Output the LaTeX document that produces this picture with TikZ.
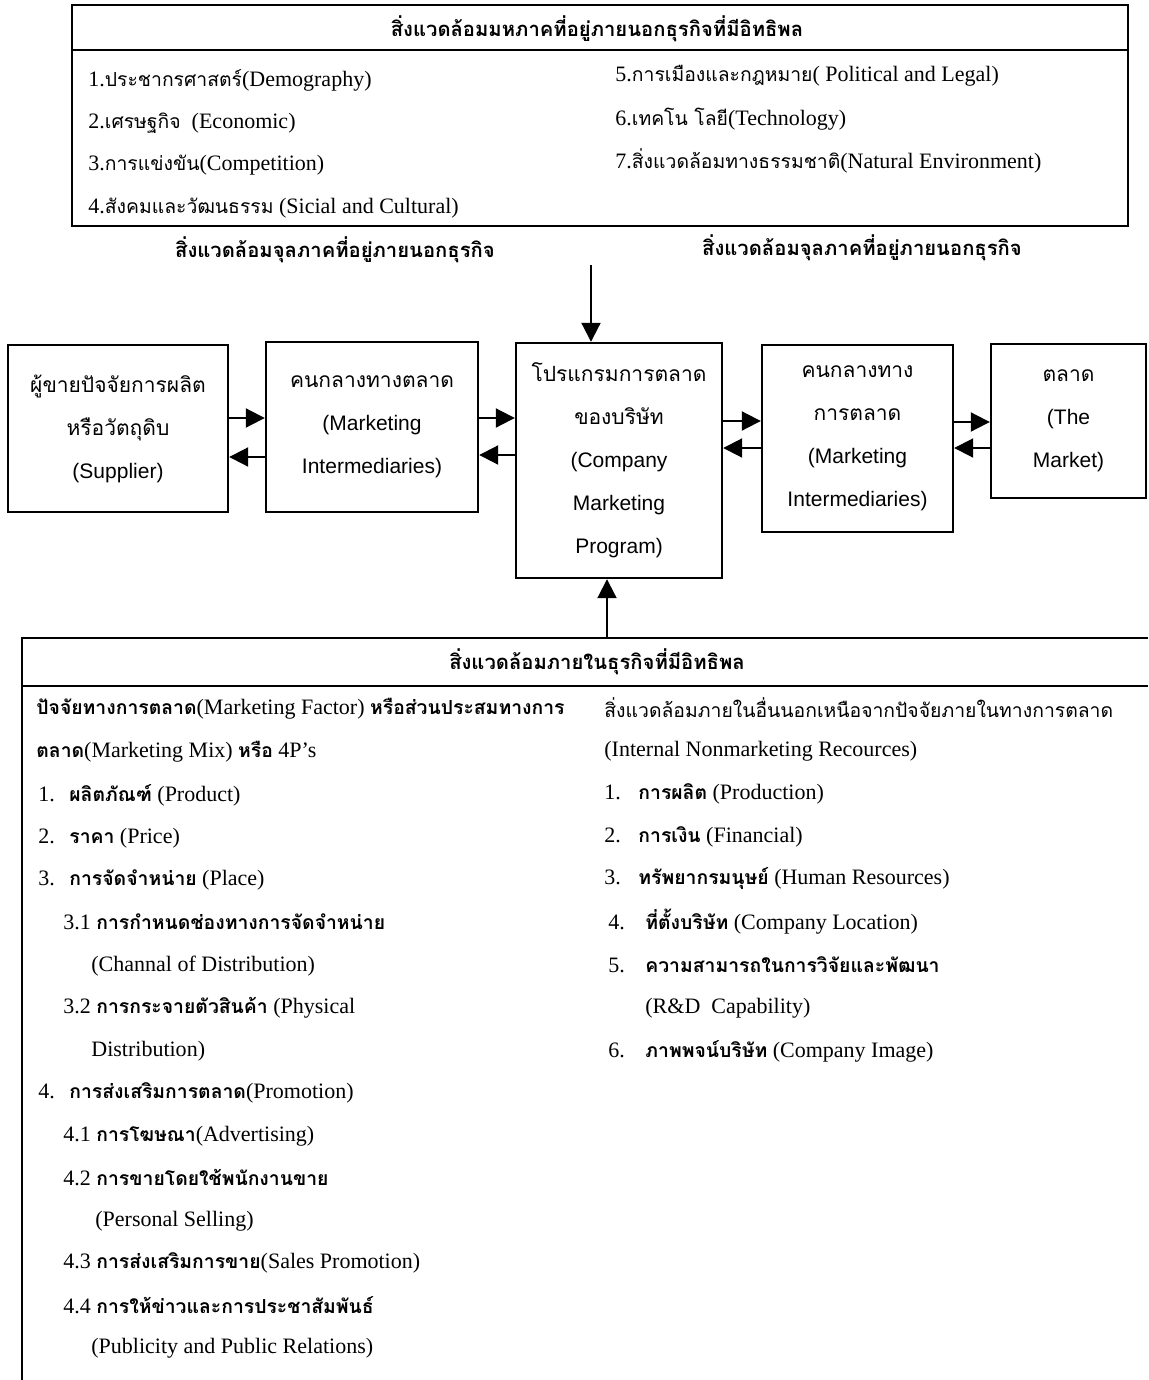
\documentclass[tikz,border=0pt]{standalone}
\usepackage{fontspec}
\usetikzlibrary{arrows.meta}
\setmainfont{Liberation Serif}
\newfontfamily\sansfnt{Liberation Sans}
\newfontfamily\thaifnt[Script=Thai,Scale=0.88]{Loma}
\newfontfamily\thaihead[Script=Thai,Scale=0.92]{Loma}
\newfontfamily\thaibox[Script=Thai]{Loma}
\newcommand{\thrm}[1]{{\thaifnt #1}}
\newcommand{\thbf}[1]{{\thaifnt\bfseries #1}}
\newcommand{\thhd}[1]{{\thaihead\bfseries #1}}
\newcommand{\thsf}[1]{{\thaibox #1}}
\newcommand{\numL}[1]{\makebox[15.5pt][l]{#1}}
\newcommand{\numR}[1]{\makebox[17pt][l]{#1}}
\newcommand{\numS}[1]{\makebox[18.5pt][l]{#1}}

\begin{document}
\begin{tikzpicture}[x=0.5pt,y=-0.5pt,
    arr/.style={-{Triangle[length=9.5pt,width=9.5pt]},line width=1pt},
    frame/.style={line width=1.2pt}]
\useasboundingbox (0,0) rectangle (1148,1380);

% macro environment
\draw[frame] (72,5) rectangle (1128,226);
\draw[frame] (72,50) -- (1128,50);
\node[font=\fontsize{11}{13}\selectfont] (macro) at (597,29) {\thhd{สิ่งแวดล้อมมหภาคที่อยู่ภายนอกธุรกิจที่มีอิทธิพล}};
\begin{scope}[every node/.append style={anchor=west,inner sep=0pt,font=\fontsize{11}{13}\selectfont}]
    \node (m1) at (88,80) {1.\thrm{ประชากรศาสตร์}(Demography)};
    \node (m2) at (88,123) {2.\thrm{เศรษฐกิจ}\ \ (Economic)};
    \node (m3) at (88,165) {3.\thrm{การแข่งขัน}(Competition)};
    \node (m4) at (88,208) {4.\thrm{สังคมและวัฒนธรรม} (Sicial and Cultural)};
    \node (m5) at (615,76) {5.\thrm{การเมืองและกฎหมาย}( Political and Legal)};
    \node (m6) at (615,119) {6.\thrm{เทคโน โลยี}(Technology)};
    \node (m7) at (615,161) {7.\thrm{สิ่งแวดล้อมทางธรรมชาติ}(Natural Environment)};
\end{scope}
\begin{scope}[every node/.append style={font=\fontsize{11}{13}\selectfont}]
    \node (microL) at (335,250) {\thhd{สิ่งแวดล้อมจุลภาคที่อยู่ภายนอกธุรกิจ}};
    \node (microR) at (862,248) {\thhd{สิ่งแวดล้อมจุลภาคที่อยู่ภายนอกธุรกิจ}};
\end{scope}

% the five boxes
\begin{scope}[every node/.append style={draw,line width=1.2pt,align=center,inner sep=0pt,
        font=\sansfnt\fontsize{10.5}{21.5}\selectfont}]
    \node[minimum width=110pt,minimum height=83.5pt] (supplier) at (118,428.5)
        {\thsf{ผู้ขายปัจจัยการผลิต}\\\thsf{หรือวัตถุดิบ}\\(Supplier)};
    \node[minimum width=106pt,minimum height=85pt] (midL) at (372,427)
        {\thsf{คนกลางทางตลาด}\\(Marketing\\Intermediaries)};
    \node[minimum width=103pt,minimum height=117.5pt] (program) at (619,460.5)
        {\thsf{โปรแกรมการตลาด}\\\thsf{ของบริษัท}\\(Company\\Marketing\\Program)};
    \node[minimum width=95.5pt,minimum height=93.5pt] (midR) at (857.5,438.5)
        {\thsf{คนกลางทาง}\\\thsf{การตลาด}\\(Marketing\\Intermediaries)};
    \node[minimum width=77.5pt,minimum height=77pt] (market) at (1068.5,421)
        {\thsf{ตลาด}\\(The\\Market)};
\end{scope}

% flows between the boxes
\draw[arr] ([yshift=5.25pt]supplier.east) -- ([yshift=5.25pt]supplier.east -| midL.west);
\draw[arr] ([yshift=-14.25pt]supplier.east -| midL.west) -- ([yshift=-14.25pt]supplier.east);
\draw[arr] ([yshift=4.5pt]midL.east) -- ([yshift=4.5pt]midL.east -| program.west);
\draw[arr] ([yshift=-14pt]midL.east -| program.west) -- ([yshift=-14pt]midL.east);
\draw[arr] ([yshift=19.75pt]program.east) -- ([yshift=19.75pt]program.east -| midR.west);
\draw[arr] ([yshift=6.25pt]program.east -| midR.west) -- ([yshift=6.25pt]program.east);
\draw[arr] ([yshift=8.25pt]midR.east) -- ([yshift=8.25pt]midR.east -| market.west);
\draw[arr] ([yshift=-4.75pt]midR.east -| market.west) -- ([yshift=-4.75pt]midR.east);

\coordinate (macroin) at (591,265);
\draw[arr] (macroin) -- (macroin |- program.north);
\coordinate (microin) at (607,638);
\draw[arr] (microin) -- (microin |- program.south);

% internal environment
\draw[frame] (1148,638) -- (22,638) -- (22,1380);
\draw[frame] (22,686) -- (1148,686);
\node[font=\fontsize{11}{13}\selectfont] (inner) at (597,662) {\thhd{สิ่งแวดล้อมภายในธุรกิจที่มีอิทธิพล}};
\begin{scope}[every node/.append style={anchor=west,inner sep=0pt,font=\fontsize{11}{13}\selectfont}]
    \node (f0) at (36,709) {\thbf{ปัจจัยทางการตลาด}(Marketing Factor) \thbf{หรือส่วนประสมทางการ}};
    \node (f0b) at (36,752) {\thbf{ตลาด}(Marketing Mix) \thbf{หรือ} 4P’s};
    \node (f1) at (38,795) {\numL{1.}\thbf{ผลิตภัณฑ์} (Product)};
    \node (f2) at (38,838) {\numL{2.}\thbf{ราคา} (Price)};
    \node (f3) at (38,880) {\numL{3.}\thbf{การจัดจำหน่าย} (Place)};
    \node (f31) at (63,922) {3.1 \thbf{การกำหนดช่องทางการจัดจำหน่าย}};
    \node (f31b) at (91,966) {(Channal of Distribution)};
    \node (f32) at (63,1008) {3.2 \thbf{การกระจายตัวสินค้า} (Physical};
    \node (f32b) at (91,1051) {Distribution)};
    \node (f4) at (38,1093) {\numL{4.}\thbf{การส่งเสริมการตลาด}(Promotion)};
    \node (f41) at (63,1136) {4.1 \thbf{การโฆษณา}(Advertising)};
    \node (f42) at (63,1178) {4.2 \thbf{การขายโดยใช้พนักงานขาย}};
    \node (f42b) at (95,1221) {(Personal Selling)};
    \node (f43) at (63,1263) {4.3 \thbf{การส่งเสริมการขาย}(Sales Promotion)};
    \node (f44) at (63,1305) {4.4 \thbf{การให้ข่าวและการประชาสัมพันธ์}};
    \node (f44b) at (91,1348) {(Publicity and Public Relations)};

    \node (r0) at (604,708) {\thrm{สิ่งแวดล้อมภายในอื่นนอกเหนือจากปัจจัยภายในทางการตลาด}};
    \node (r0b) at (604,751) {(Internal Nonmarketing Recources)};
    \node (r1) at (604,794) {\numR{1.}\thbf{การผลิต} (Production)};
    \node (r2) at (604,837) {\numR{2.}\thbf{การเงิน} (Financial)};
    \node (r3) at (604,879) {\numR{3.}\thbf{ทรัพยากรมนุษย์} (Human Resources)};
    \node (r4) at (608,922) {\numS{4.}\thbf{ที่ตั้งบริษัท} (Company Location)};
    \node (r5) at (608,965) {\numS{5.}\thbf{ความสามารถในการวิจัยและพัฒนา}};
    \node (r5b) at (645,1008) {(R\&D\ \ Capability)};
    \node (r6) at (608,1051) {\numS{6.}\thbf{ภาพพจน์บริษัท} (Company Image)};
\end{scope}
\end{tikzpicture}
\end{document}
